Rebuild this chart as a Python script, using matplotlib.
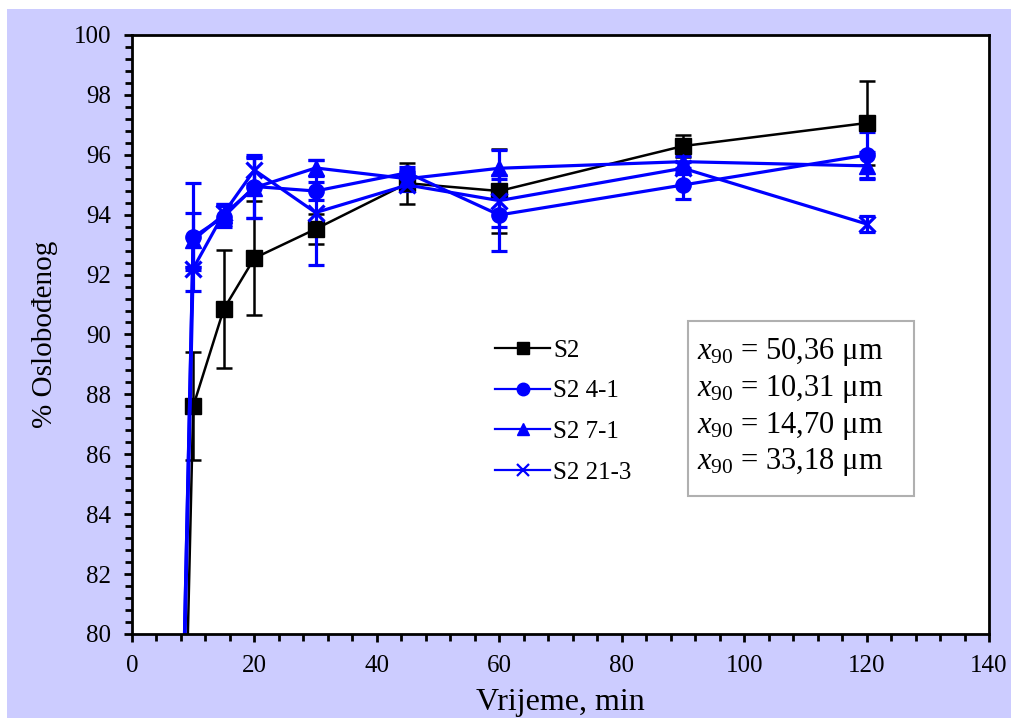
import matplotlib.pyplot as plt
from matplotlib.patches import Rectangle
from matplotlib.lines import Line2D
from matplotlib.ticker import MultipleLocator

plt.rcParams['font.family'] = 'Liberation Serif'
plt.rcParams['mathtext.fontset'] = 'custom'
plt.rcParams['mathtext.rm'] = 'Liberation Serif'
plt.rcParams['mathtext.it'] = 'Liberation Serif:italic'

# Vrijeme (min)
t = [0, 10, 15, 20, 30, 45, 60, 90, 120]

# % oslobođenog, with standard deviation
s2 = [0, 87.6, 90.85, 92.55, 93.52, 95.05, 94.79, 96.29, 97.06]
s2_err = [0, 1.8, 1.97, 1.9, 0.5, 0.68, 1.4, 0.38, 1.4]

s2_41 = [0, 93.25, 93.93, 94.94, 94.79, 95.4, 93.99, 94.99, 95.99]
s2_41_err = [0, 1.8, 0.35, 1.05, 0.3, 0.2, 1.2, 0.45, 0.78]

s2_71 = [0, 93.15, 94.0, 94.9, 95.56, 95.2, 95.55, 95.77, 95.63]
s2_71_err = [0, 0.9, 0.35, 1.0, 0.27, 0.3, 0.6, 0.2, 0.45]

s2_213 = [0, 92.2, 94.05, 95.49, 94.07, 94.99, 94.47, 95.55, 93.69]
s2_213_err = [0, 0.05, 0.3, 0.45, 1.75, 0.2, 0.87, 0.2, 0.27]

labels = ['S2', 'S2 4-1', 'S2 7-1', 'S2 21-3']
x90 = ['50,36', '10,31', '14,70', '33,18']

fig = plt.figure(figsize=(10.12, 7.18), dpi=100)
fig.patch.set_facecolor('white')
fig.patches.append(Rectangle((7 / 1012, 0), 1, 1 - 9 / 718, transform=fig.transFigure,
                             facecolor='#ccccff', edgecolor='none', zorder=-10))
ax = fig.add_axes([0.1304, 0.117, 0.8469, 0.8343])
ax.set_facecolor('white')

blue = '#0000ff'
ax.errorbar(t, s2, yerr=s2_err, color='black', marker='s', ms=11, lw=1.8,
            capsize=6, capthick=1.8, elinewidth=1.8, label=labels[0])
ax.errorbar(t, s2_41, yerr=s2_41_err, color=blue, marker='o', ms=11, lw=2.3,
            capsize=6, capthick=2.3, elinewidth=2.3, label=labels[1])
ax.errorbar(t, s2_71, yerr=s2_71_err, color=blue, marker='^', ms=11, lw=2.3,
            capsize=6, capthick=2.3, elinewidth=2.3, label=labels[2])
ax.errorbar(t, s2_213, yerr=s2_213_err, color=blue, marker='x', ms=11, mew=2.3, lw=2.3,
            capsize=6, capthick=2.3, elinewidth=2.3, label=labels[3])

ax.set_xlim(0, 140)
ax.set_ylim(80, 100)
ax.xaxis.set_major_locator(MultipleLocator(20))
ax.xaxis.set_minor_locator(MultipleLocator(4))
ax.yaxis.set_major_locator(MultipleLocator(2))
ax.yaxis.set_minor_locator(MultipleLocator(0.4))
ax.tick_params(which='both', direction='out', width=2, length=6, labelsize=18, pad=9)
ax.tick_params(which='minor', length=5)
for sp in ax.spines.values():
    sp.set_linewidth(2)

ax.set_xlabel('Vrijeme, min', fontsize=23, labelpad=8)
ax.set_ylabel('% Oslobođenog', fontsize=21, labelpad=11)

# legend without error bars
handles = [
    Line2D([], [], color='black', marker='s', ms=9, lw=1.6),
    Line2D([], [], color=blue, marker='o', ms=9, lw=1.6),
    Line2D([], [], color=blue, marker='^', ms=9, lw=1.6),
    Line2D([], [], color=blue, marker='x', ms=9, mew=1.6, lw=1.6),
]
ax.legend(handles, labels, loc='center left', bbox_to_anchor=(0.424, 0.3715),
          frameon=False, fontsize=18, handlelength=2.2, handletextpad=0.12,
          labelspacing=0.73, borderpad=0, borderaxespad=0)

ax.add_patch(Rectangle((0.649, 0.2304), 0.264, 0.2921, transform=ax.transAxes,
                       facecolor='white', edgecolor='#b0b0b0', lw=1.5, zorder=6))
ys = [0.471, 0.409, 0.347, 0.287]
for v, y in zip(x90, ys):
    ax.text(0.659, y, r'$x_{90}$' + ' = ' + v + ' μm', transform=ax.transAxes,
            fontsize=22, va='center', ha='left', zorder=7)

fig.savefig('out.png', dpi=100)
